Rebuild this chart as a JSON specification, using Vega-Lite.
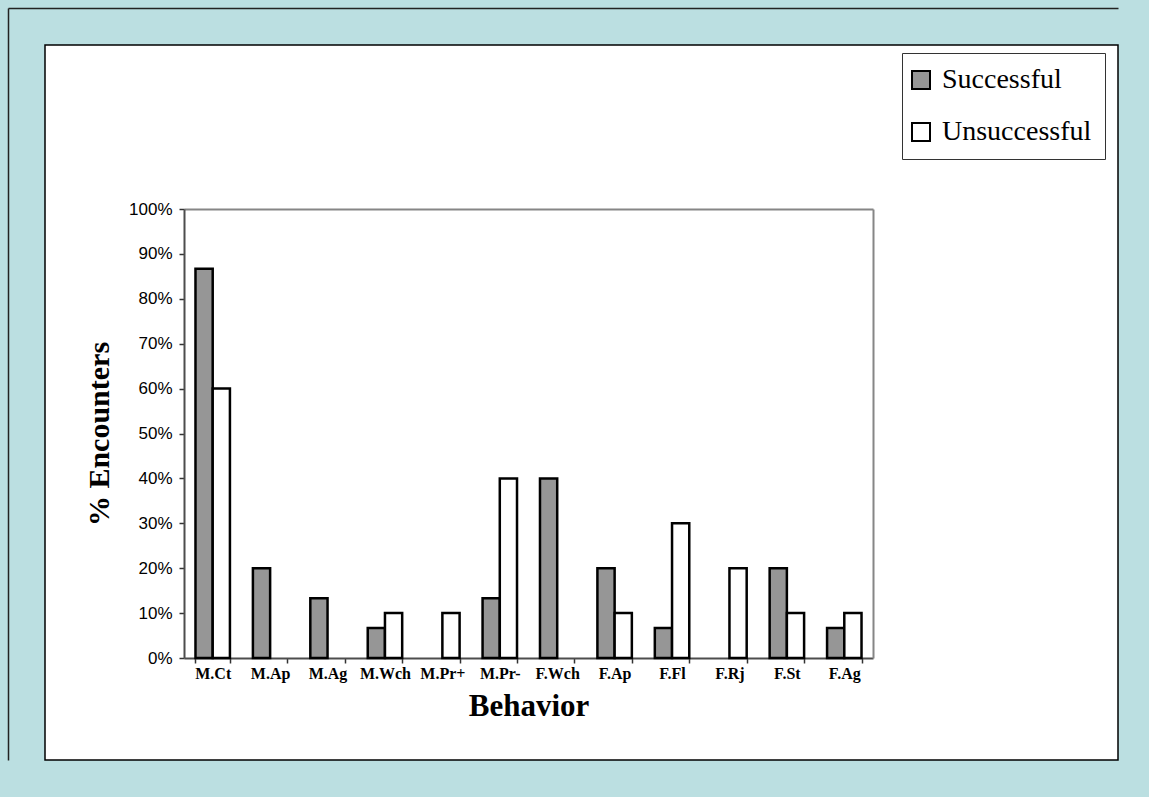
{
  "$schema": "https://vega.github.io/schema/vega-lite/v6.json",
  "width": 1073,
  "height": 715,
  "autosize": {"type": "none"},
  "padding": {"left": 45, "top": 45, "right": 31, "bottom": 37},
  "background": "#bbdfe1",
  "config": {
    "view": {"fill": "white", "stroke": "black", "strokeWidth": 1.5}
  },
  "data": {
    "values": [
      {"behavior": "M.Ct", "outcome": "Successful", "pct": 0.867},
      {"behavior": "M.Ct", "outcome": "Unsuccessful", "pct": 0.6},
      {"behavior": "M.Ap", "outcome": "Successful", "pct": 0.2},
      {"behavior": "M.Ap", "outcome": "Unsuccessful", "pct": 0},
      {"behavior": "M.Ag", "outcome": "Successful", "pct": 0.133},
      {"behavior": "M.Ag", "outcome": "Unsuccessful", "pct": 0},
      {"behavior": "M.Wch", "outcome": "Successful", "pct": 0.067},
      {"behavior": "M.Wch", "outcome": "Unsuccessful", "pct": 0.1},
      {"behavior": "M.Pr+", "outcome": "Successful", "pct": 0},
      {"behavior": "M.Pr+", "outcome": "Unsuccessful", "pct": 0.1},
      {"behavior": "M.Pr-", "outcome": "Successful", "pct": 0.133},
      {"behavior": "M.Pr-", "outcome": "Unsuccessful", "pct": 0.4},
      {"behavior": "F.Wch", "outcome": "Successful", "pct": 0.4},
      {"behavior": "F.Wch", "outcome": "Unsuccessful", "pct": 0},
      {"behavior": "F.Ap", "outcome": "Successful", "pct": 0.2},
      {"behavior": "F.Ap", "outcome": "Unsuccessful", "pct": 0.1},
      {"behavior": "F.Fl", "outcome": "Successful", "pct": 0.067},
      {"behavior": "F.Fl", "outcome": "Unsuccessful", "pct": 0.3},
      {"behavior": "F.Rj", "outcome": "Successful", "pct": 0},
      {"behavior": "F.Rj", "outcome": "Unsuccessful", "pct": 0.2},
      {"behavior": "F.St", "outcome": "Successful", "pct": 0.2},
      {"behavior": "F.St", "outcome": "Unsuccessful", "pct": 0.1},
      {"behavior": "F.Ag", "outcome": "Successful", "pct": 0.067},
      {"behavior": "F.Ag", "outcome": "Unsuccessful", "pct": 0.1}
    ]
  },
  "transform": [{"filter": "datum.pct > 0"}],
  "layer": [
    {
      "mark": {"type": "bar", "stroke": "black", "strokeWidth": 2.5},
      "encoding": {
        "x": {
          "field": "behavior",
          "type": "nominal",
          "scale": {
            "domain": ["M.Ct", "M.Ap", "M.Ag", "M.Wch", "M.Pr+", "M.Pr-", "F.Wch", "F.Ap", "F.Fl", "F.Rj", "F.St", "F.Ag"],
            "range": [139, 828],
            "paddingInner": 0.4,
            "paddingOuter": 0.2
          },
          "axis": {
            "orient": "bottom",
            "offset": -102,
            "title": "Behavior",
            "titleFont": "Liberation Serif",
            "titleFontSize": 31,
            "titleFontWeight": "bold",
            "titleColor": "black",
            "titleBaseline": "alphabetic",
            "titleY": 57,
            "labelFont": "Liberation Serif",
            "labelFontSize": 16,
            "labelFontWeight": "bold",
            "labelColor": "black",
            "labelAngle": 0,
            "labelPadding": 2,
            "tickBand": "extent",
            "tickSize": 5,
            "tickColor": "#333333",
            "tickWidth": 1.5,
            "domainColor": "#4d4d4d",
            "domainWidth": 2,
            "grid": false
          }
        },
        "xOffset": {
          "field": "outcome",
          "type": "nominal",
          "scale": {"domain": ["Successful", "Unsuccessful"]}
        },
        "y": {
          "field": "pct",
          "type": "quantitative",
          "scale": {"domain": [0, 1], "range": [613, 164]},
          "axis": {
            "orient": "left",
            "offset": -139,
            "values": [0, 0.1, 0.2, 0.3, 0.4, 0.5, 0.6, 0.7, 0.8, 0.9, 1],
            "format": ".0%",
            "title": "% Encounters",
            "titleFont": "Liberation Serif",
            "titleFontSize": 30,
            "titleFontWeight": "bold",
            "titleColor": "black",
            "titleBaseline": "alphabetic",
            "titleX": -76,
            "labelFont": "Liberation Sans",
            "labelFontSize": 17,
            "labelColor": "black",
            "labelPadding": 7,
            "tickSize": 5,
            "tickColor": "#333333",
            "tickWidth": 1.5,
            "domainColor": "#4d4d4d",
            "domainWidth": 2,
            "grid": false
          }
        },
        "color": {
          "field": "outcome",
          "type": "nominal",
          "scale": {"domain": ["Successful", "Unsuccessful"], "range": ["#969696", "#ffffff"]},
          "legend": {
            "orient": "none",
            "legendX": 857,
            "legendY": 8,
            "title": null,
            "fillColor": "white",
            "strokeColor": "#333333",
            "padding": 13,
            "symbolType": "square",
            "symbolSize": 324,
            "symbolOffset": -8,
            "symbolStrokeColor": "black",
            "symbolStrokeWidth": 2,
            "symbolOpacity": 1,
            "labelFont": "Liberation Serif",
            "labelFontSize": 28,
            "labelColor": "black",
            "labelOffset": 7,
            "labelLimit": 400,
            "rowPadding": 24
          }
        }
      }
    },
    {
      "mark": {"type": "bar", "opacity": 0},
      "encoding": {
        "x": {
          "field": "behavior",
          "type": "nominal",
          "scale": {
            "domain": ["M.Ct", "M.Ap", "M.Ag", "M.Wch", "M.Pr+", "M.Pr-", "F.Wch", "F.Ap", "F.Fl", "F.Rj", "F.St", "F.Ag"],
            "range": [139, 828]
          },
          "axis": {
            "orient": "top",
            "offset": -164,
            "title": null,
            "labels": false,
            "ticks": false,
            "grid": false,
            "domainColor": "#868686",
            "domainWidth": 2
          }
        },
        "y": {
          "field": "pct",
          "type": "quantitative",
          "scale": {"domain": [0, 1], "range": [613, 164]},
          "axis": {
            "orient": "right",
            "offset": -245,
            "title": null,
            "labels": false,
            "ticks": false,
            "grid": false,
            "domainColor": "#868686",
            "domainWidth": 2
          }
        }
      }
    },
    {
      "mark": {"type": "bar", "opacity": 0},
      "encoding": {
        "x": {
          "field": "behavior",
          "type": "nominal",
          "scale": {
            "domain": ["M.Ct", "M.Ap", "M.Ag", "M.Wch", "M.Pr+", "M.Pr-", "F.Wch", "F.Ap", "F.Fl", "F.Rj", "F.St", "F.Ag"],
            "range": [-37, 1073]
          },
          "axis": {
            "orient": "top",
            "offset": 37,
            "title": null,
            "labels": false,
            "ticks": false,
            "grid": false,
            "domainColor": "#222222",
            "domainWidth": 1.5
          }
        },
        "y": {
          "field": "pct",
          "type": "quantitative",
          "scale": {"domain": [0, 1], "range": [715, -37]},
          "axis": {
            "orient": "left",
            "offset": 37,
            "title": null,
            "labels": false,
            "ticks": false,
            "grid": false,
            "domainColor": "#222222",
            "domainWidth": 1.5
          }
        }
      }
    }
  ],
  "resolve": {
    "scale": {"x": "independent", "y": "independent"},
    "axis": {"x": "independent", "y": "independent"}
  }
}
